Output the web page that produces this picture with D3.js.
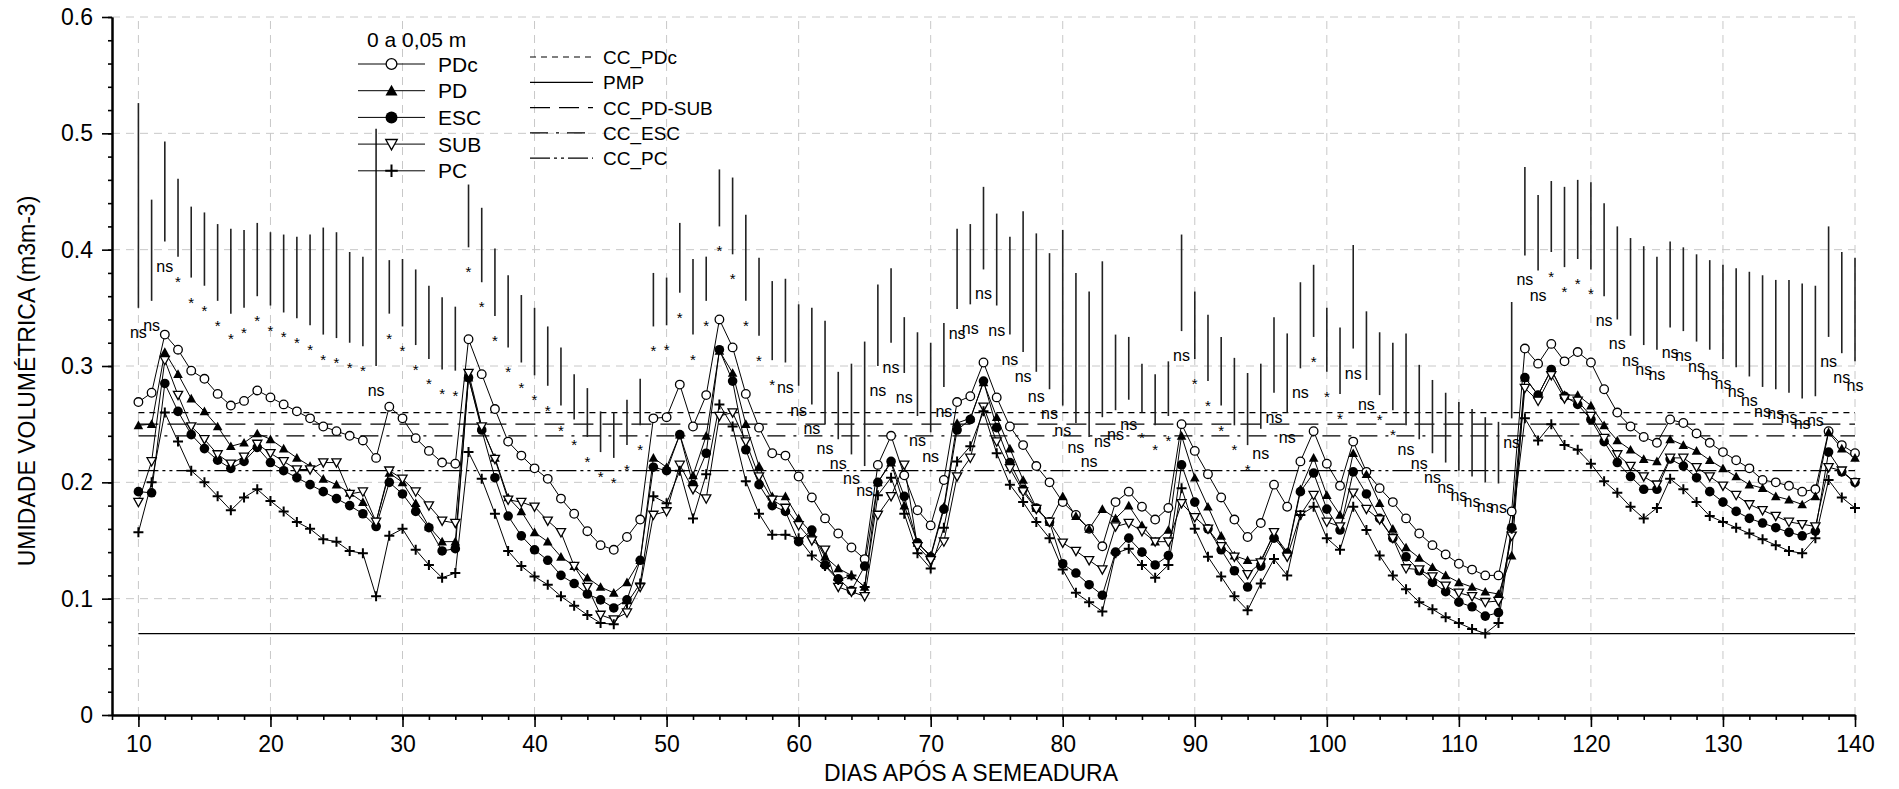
<!DOCTYPE html>
<html>
<head>
<meta charset="utf-8">
<script src="https://cdn.jsdelivr.net/npm/d3@7"></script>
<style>
body { margin:0; background:#fff; }
svg { font-family:"Liberation Sans", Arial, sans-serif; }
</style>
</head>
<body>
<div id="chart"></div>
<script>
// Chart size
const W = 1899, H = 789;
const margin = {top:17, right:44, bottom:74, left:112};
const width = W - margin.left - margin.right;
const height = H - margin.top - margin.bottom;

// Data: soil moisture per day (day 10 .. 140), one value per day
const firstDay = 10;

const PDc = [
.269,.277,.327,.314,.296,.289,.276,.266,.270,.279,
.273,.267,.261,.255,.248,.244,.240,.236,.221,.265,
.255,.238,.227,.217,.216,.323,.293,.263,.235,.223,
.212,.203,.186,.173,.158,.146,.142,.153,.168,.255,
.256,.284,.248,.275,.340,.316,.276,.247,.225,.223,
.205,.187,.169,.156,.144,.134,.215,.240,.206,.176,
.163,.202,.269,.274,.303,.273,.248,.232,.214,.200,
.183,.172,.160,.145,.183,.192,.179,.168,.178,.250,
.227,.207,.187,.168,.153,.165,.198,.179,.218,.244,
.216,.197,.235,.209,.195,.183,.169,.156,.146,.138,
.130,.125,.120,.120,.175,.315,.302,.319,.304,.312,
.303,.280,.260,.248,.239,.234,.254,.251,.242,.234,
.226,.219,.212,.202,.200,.197,.192,.194,.244,.232,
.225];

const PD = [
.249,.250,.312,.293,.272,.261,.248,.231,.234,.242,
.237,.229,.221,.214,.203,.198,.191,.183,.166,.208,
.200,.182,.162,.149,.149,.290,.247,.221,.187,.175,
.157,.149,.136,.128,.118,.110,.105,.114,.133,.221,
.213,.241,.206,.240,.313,.294,.250,.214,.188,.188,
.169,.156,.136,.126,.120,.110,.200,.217,.180,.148,
.137,.179,.251,.255,.286,.256,.229,.202,.178,.166,
.188,.171,.160,.177,.169,.180,.163,.149,.159,.240,
.204,.179,.154,.137,.133,.133,.155,.140,.194,.221,
.189,.172,.225,.207,.182,.160,.144,.135,.127,.120,
.114,.110,.106,.104,.137,.290,.275,.297,.275,.275,
.266,.249,.236,.228,.220,.218,.237,.232,.227,.219,
.212,.205,.198,.195,.188,.185,.181,.188,.243,.229,
.221];

const ESC = [
.192,.191,.285,.261,.241,.229,.219,.212,.218,.230,
.217,.210,.204,.198,.192,.186,.180,.173,.162,.200,
.190,.175,.161,.141,.143,.290,.245,.204,.171,.154,
.142,.133,.120,.113,.104,.099,.092,.099,.133,.213,
.210,.241,.198,.225,.314,.287,.228,.198,.180,.175,
.149,.159,.129,.117,.107,.128,.200,.218,.188,.148,
.136,.177,.245,.254,.287,.247,.217,.194,.178,.166,
.130,.122,.112,.103,.140,.152,.140,.129,.137,.215,
.183,.160,.142,.124,.110,.128,.152,.139,.192,.208,
.177,.159,.209,.190,.169,.152,.136,.124,.114,.106,
.097,.093,.085,.088,.161,.290,.275,.297,.274,.267,
.254,.235,.217,.205,.194,.194,.220,.214,.204,.192,
.183,.175,.169,.165,.161,.157,.154,.158,.226,.209,
.200];

const SUB = [
.183,.218,.305,.275,.248,.237,.224,.216,.222,.233,
.225,.218,.211,.211,.217,.217,.190,.192,.166,.210,
.203,.192,.180,.167,.165,.294,.248,.220,.185,.183,
.179,.167,.157,.128,.110,.086,.082,.088,.110,.172,
.175,.215,.194,.186,.257,.260,.235,.205,.185,.178,
.163,.150,.142,.110,.106,.102,.172,.188,.215,.145,
.133,.149,.205,.221,.265,.235,.212,.192,.177,.166,
.148,.141,.133,.125,.162,.165,.158,.149,.149,.182,
.170,.160,.145,.136,.121,.131,.157,.136,.172,.189,
.166,.162,.191,.177,.168,.152,.126,.125,.119,.111,
.105,.102,.097,.098,.154,.281,.270,.292,.272,.270,
.257,.238,.224,.214,.205,.198,.221,.221,.213,.205,
.197,.189,.181,.176,.171,.166,.164,.162,.213,.210,
.200];

const PC = [
.157,.200,.260,.235,.210,.200,.188,.176,.187,.194,
.184,.175,.166,.160,.151,.149,.141,.139,.102,.154,
.160,.142,.129,.118,.122,.226,.203,.173,.141,.128,
.119,.112,.102,.094,.086,.079,.078,.096,.113,.188,
.182,.210,.169,.207,.267,.248,.201,.173,.155,.155,
.152,.137,.128,.116,.120,.110,.189,.204,.173,.139,
.126,.161,.218,.231,.261,.225,.198,.183,.166,.152,
.125,.105,.097,.089,.139,.143,.129,.118,.129,.195,
.160,.136,.119,.102,.090,.113,.134,.120,.172,.179,
.152,.142,.179,.159,.137,.120,.108,.097,.091,.084,
.079,.074,.070,.079,.160,.255,.236,.250,.232,.228,
.216,.201,.191,.179,.169,.178,.203,.194,.183,.171,
.166,.161,.156,.151,.146,.141,.139,.152,.202,.187,
.178];

// Significance bars (top / bottom of each vertical bar) and test result
const barTop = [
.526,.443,.493,.461,.437,.432,.422,.418,.417,.423,
.415,.413,.411,.413,.419,.415,.398,.394,.504,.391,
.392,.383,.369,.359,.351,.456,.436,.401,.378,.361,
.350,.334,.316,.293,.281,.261,.260,.271,.289,.380,
.376,.423,.392,.394,.469,.462,.430,.393,.373,.375,
.353,.350,.339,.295,.302,.321,.370,.384,.342,.329,
.320,.337,.418,.422,.454,.431,.411,.433,.414,.397,
.417,.380,.364,.390,.327,.325,.302,.293,.304,.413,
.364,.344,.325,.307,.294,.302,.342,.328,.372,.387,
.350,.333,.404,.347,.329,.320,.328,.301,.288,.277,
.269,.263,.256,.252,.355,.471,.447,.459,.454,.460,
.458,.440,.420,.410,.403,.394,.407,.402,.396,.391,
.387,.384,.381,.378,.374,.374,.371,.369,.420,.398,
.393];

const barBottom = [
.350,.356,.407,.394,.376,.369,.356,.345,.350,.360,
.352,.346,.341,.335,.327,.324,.320,.317,.300,.345,
.334,.318,.306,.297,.296,.402,.372,.343,.316,.303,
.292,.283,.266,.254,.239,.226,.221,.232,.249,.334,
.335,.363,.327,.356,.420,.396,.356,.326,.305,.303,
.283,.267,.250,.237,.224,.214,.300,.320,.294,.257,
.243,.282,.349,.353,.383,.352,.327,.312,.295,.280,
.266,.251,.239,.256,.262,.271,.260,.249,.257,.330,
.306,.287,.266,.249,.232,.246,.277,.260,.298,.325,
.295,.276,.315,.288,.275,.262,.249,.237,.225,.217,
.210,.205,.200,.199,.255,.395,.382,.398,.385,.392,
.383,.360,.340,.326,.318,.314,.333,.330,.321,.314,
.306,.299,.291,.282,.280,.277,.272,.274,.325,.311,
.304];

const sig = [
"ns","ns","ns","*","*","*","*","*","*","*",
"*","*","*","*","*","*","*","*","ns","*",
"*","*","*","*","*","*","*","*","*","*",
"*","*","*","*","*","*","*","*","*","*",
"*","*","*","*","*","*","*","*","*","ns",
"ns","ns","ns","ns","ns","ns","ns","ns","ns","ns",
"ns","ns","ns","ns","ns","ns","ns","ns","ns","ns",
"ns","ns","ns","ns","ns","ns","*","*","*","ns",
"*","*","*","*","*","ns","ns","ns","ns","*",
"*","*","ns","ns","*","*","ns","ns","ns","ns",
"ns","ns","ns","ns","ns","ns","ns","*","*","*",
"*","ns","ns","ns","ns","ns","ns","ns","ns","ns",
"ns","ns","ns","ns","ns","ns","ns","ns","ns","ns",
"ns"];

// Reference levels (field capacity / wilting point)
const refNames = ["CC_PDc","PMP","CC_PD-SUB","CC_ESC","CC_PC"];
const refValues = [0.26, 0.07, 0.25, 0.24, 0.21];
const refDash = ["6,5", null, "20,9", "18,8,3,8", "20,4,3,4,3,4"];

const seriesNames = ["PDc","PD","ESC","SUB","PC"];
const seriesValues = [PDc, PD, ESC, SUB, PC];
const seriesMarker = ["circleOpen","triUp","circleFilled","triDown","plus"];

const days = PDc.map((d,i) => firstDay + i);
const yTicks = [0, 0.1, 0.2, 0.3, 0.4, 0.5, 0.6];
const xTicks = [10,20,30,40,50,60,70,80,90,100,110,120,130,140];


const svg = d3.select("#chart")
.append("svg")
.attr("width", W)
.attr("height", H)
.append("g")
.attr("transform", `translate(${margin.left},${margin.top})`);

// Scales
const x = d3.scaleLinear().domain([8, 140]).range([0, width]);
const y = d3.scaleLinear().domain([0, 0.6]).range([height, 0]);

// Grid
svg.append("g")
.selectAll("line")
.data(xTicks)
.enter()
.append("line")
.attr("x1", d => x(d)).attr("x2", d => x(d))
.attr("y1", y(0)).attr("y2", y(0.6))
.attr("stroke", "#c8c8c8").attr("stroke-dasharray", "8,6");

svg.append("g")
.selectAll("line")
.data(yTicks.slice(1))
.enter()
.append("line")
.attr("x1", 0).attr("x2", x(140))
.attr("y1", d => y(d)).attr("y2", d => y(d))
.attr("stroke", "#c8c8c8").attr("stroke-dasharray", "8,6");

// Reference lines
refValues.forEach((v, i) => {
  svg.append("line")
  .attr("x1", x(firstDay)).attr("x2", x(140))
  .attr("y1", y(v)).attr("y2", y(v))
  .attr("stroke", "#000").attr("stroke-width", 1.2)
  .attr("stroke-dasharray", refDash[i]);
});

// Significance bars and labels
const bars = days.map((d,i) => ({day:d, top:barTop[i], bottom:barBottom[i], sig:sig[i]}));

svg.append("g")
.selectAll("line")
.data(bars)
.enter()
.append("line")
.attr("x1", d => x(d.day)).attr("x2", d => x(d.day))
.attr("y1", d => y(d.top)).attr("y2", d => y(d.bottom))
.attr("stroke", "#222").attr("stroke-width", 1.6);

svg.append("g")
.selectAll("text")
.data(bars)
.enter()
.append("text")
.attr("x", d => x(d.day))
.attr("y", d => y(d.bottom) + 30)
.attr("text-anchor", "middle")
.attr("font-size", d => d.sig === "*" ? 15 : 16)
.text(d => d.sig);

// Markers
function marker(g, type, cx, cy, k) {
  if (type === "circleOpen") {
    g.append("circle").attr("cx", cx).attr("cy", cy).attr("r", 4.3*k)
    .attr("fill", "#fff").attr("stroke", "#000").attr("stroke-width", 1.3);
  } else if (type === "circleFilled") {
    g.append("circle").attr("cx", cx).attr("cy", cy).attr("r", 4.8*k).attr("fill", "#000");
  } else if (type === "triUp") {
    const s = 4.8*k;
    g.append("path").attr("d", `M${cx},${cy-s}L${cx+s},${cy+s*0.8}L${cx-s},${cy+s*0.8}Z`).attr("fill", "#000");
  } else if (type === "triDown") {
    const s = 4.6*k;
    g.append("path").attr("d", `M${cx-s},${cy-s*0.8}L${cx+s},${cy-s*0.8}L${cx},${cy+s}Z`)
    .attr("fill", "#fff").attr("stroke", "#000").attr("stroke-width", 1.3);
  } else {
    const s = 5*k;
    g.append("path").attr("d", `M${cx-s},${cy}H${cx+s}M${cx},${cy-s}V${cy+s}`)
    .attr("stroke", "#000").attr("stroke-width", 2);
  }
}

// Series lines
const line = d3.line().x((d,i) => x(days[i])).y(d => y(d));
seriesValues.forEach(vals => {
  svg.append("path")
  .datum(vals)
  .attr("fill", "none")
  .attr("stroke", "#000")
  .attr("stroke-width", 1)
  .attr("d", line);
});

seriesValues.forEach((vals, s) => {
  const g = svg.append("g");
  vals.forEach((v, i) => marker(g, seriesMarker[s], x(days[i]), y(v), 1));
});

// Axes
const yAxis = svg.append("g")
.call(d3.axisLeft(y).tickValues(yTicks).tickSize(10).tickSizeOuter(0).tickPadding(9)
  .tickFormat(d => d === 0 ? "0" : d3.format(".1f")(d)));
svg.append("g")
.call(d3.axisLeft(y).tickValues(d3.range(0, 0.61, 0.02)).tickSize(4).tickSizeOuter(0).tickFormat(""));

const xAxis = svg.append("g")
.attr("transform", `translate(0,${height})`)
.call(d3.axisBottom(x).tickValues(xTicks).tickSize(12).tickSizeOuter(0).tickPadding(9));
svg.append("g")
.attr("transform", `translate(0,${height})`)
.call(d3.axisBottom(x).tickValues(d3.range(8, 141, 2)).tickSize(5).tickSizeOuter(0).tickFormat(""));

svg.selectAll(".domain").attr("stroke-width", 2);
svg.selectAll(".tick line").attr("stroke-width", 1.6);
svg.selectAll(".tick text").attr("font-size", 23).attr("fill", "#000")
.attr("font-family", "'Liberation Sans', Arial, sans-serif");

// Axis titles
svg.append("text")
.attr("transform", `translate(${35 - margin.left},${381 - margin.top}) rotate(-90)`)
.attr("text-anchor", "middle")
.attr("font-size", 23)
.text("UMIDADE VOLUMÉTRICA (m3m-3)");

svg.append("text")
.attr("x", 971 - margin.left)
.attr("y", 781 - margin.top)
.attr("text-anchor", "middle")
.attr("font-size", 23)
.text("DIAS APÓS A SEMEADURA");

// Legend (series)
const leg = svg.append("g").attr("transform", `translate(${-margin.left},${-margin.top})`);
leg.append("text").attr("x", 367).attr("y", 47).attr("font-size", 21).text("0 a 0,05 m");
seriesNames.forEach((name, i) => {
  const ly = 64 + i*26.7;
  leg.append("line").attr("x1", 358).attr("x2", 425).attr("y1", ly).attr("y2", ly)
  .attr("stroke", "#000").attr("stroke-width", 1);
  marker(leg, seriesMarker[i], 391.5, ly, 1.25);
  leg.append("text").attr("x", 438).attr("y", ly + 7.5).attr("font-size", 21).text(name);
});

// Legend (reference lines)
refNames.forEach((name, i) => {
  const ly = 57 + i*25.3;
  leg.append("line").attr("x1", 530).attr("x2", 593).attr("y1", ly).attr("y2", ly)
  .attr("stroke", "#000").attr("stroke-width", 1.2)
  .attr("stroke-dasharray", refDash[i]);
  leg.append("text").attr("x", 603).attr("y", ly + 7).attr("font-size", 19).text(name);
});
</script>
</body>
</html>
